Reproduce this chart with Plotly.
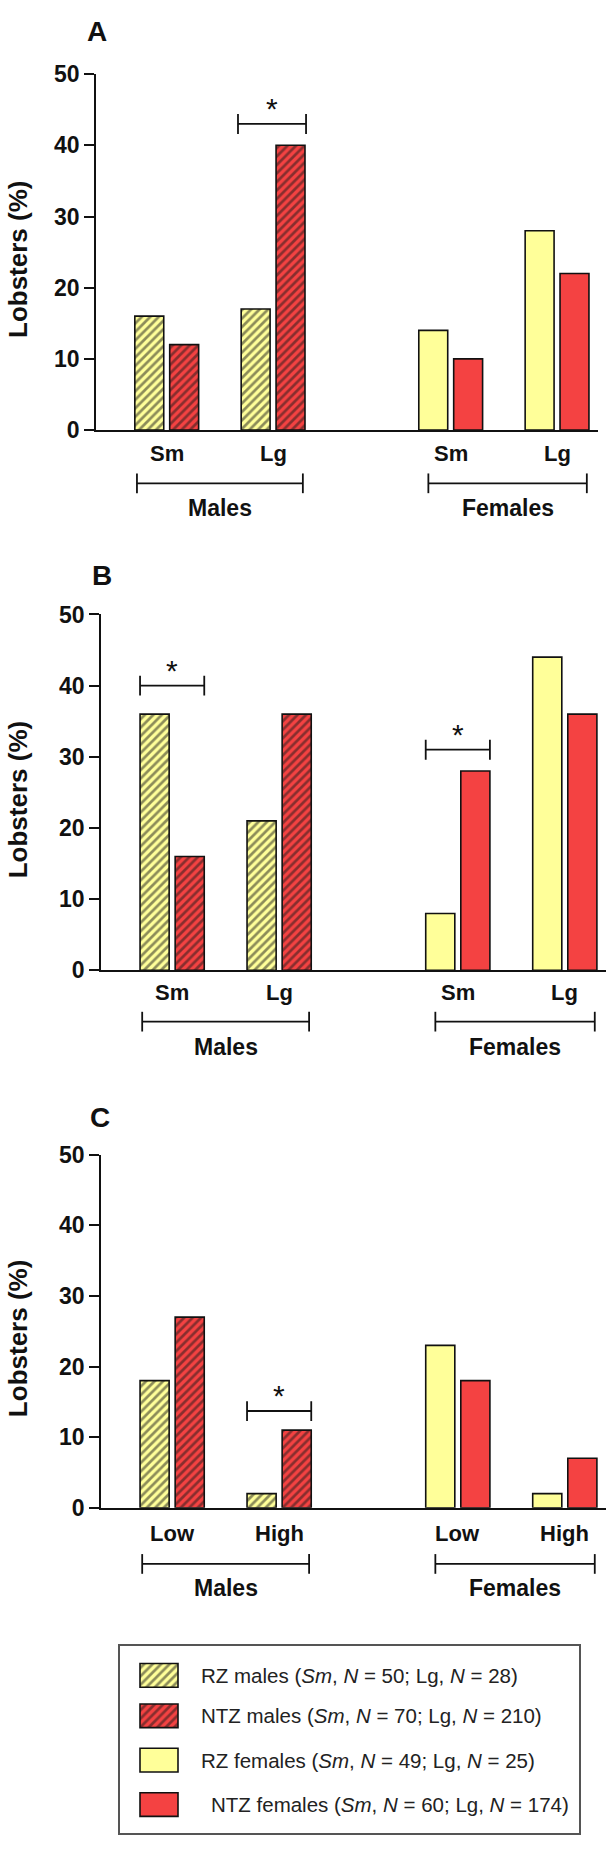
import plotly.graph_objects as go

W, H = 609, 1854

# ---------------- data ----------------
panel_letters = ["A", "B", "C"]
group_labels = [["Sm", "Lg"], ["Sm", "Lg"], ["Low", "High"]]
sex_labels = ["Males", "Females"]

rz_males = [[16, 17], [36, 21], [18, 2]]
ntz_males = [[12, 40], [16, 36], [27, 11]]
rz_females = [[14, 28], [8, 44], [23, 2]]
ntz_females = [[10, 22], [28, 36], [18, 7]]

y_ticks = [0, 10, 20, 30, 40, 50]
y_title = "Lobsters (%)"

# significance brackets: panel index, left x, right x, level (in % units)
sig_panel = [0, 1, 1, 2]
sig_x0 = [0.67, -0.30, 2.37, 0.70]
sig_x1 = [1.31, 0.30, 2.97, 1.30]
sig_level = [43, 40, 31, 13.7]

legend_labels = [
    "RZ males (<i>Sm</i>, <i>N</i> = 50; Lg, <i>N</i> = 28)",
    "NTZ males (<i>Sm</i>, <i>N</i> = 70; Lg, <i>N</i> = 210)",
    "RZ females (<i>Sm</i>, <i>N</i> = 49; Lg, <i>N</i> = 25)",
    "NTZ females (<i>Sm</i>, <i>N</i> = 60; Lg, <i>N</i> = 174)",
]

# ---------------- layout constants ----------------
FONT = "Liberation Sans, Arial, Helvetica, sans-serif"
INK = "#111111"
YEL = "#FFFF99"
RED = "#F44242"
HATCH = dict(shape="/", fgcolor="#1a1a1a", size=6, solidity=0.45)

group_x = [0, 1, 2.67, 3.67]
x_range = [-0.665, 4.055]
panel_px_x = [(96, 598), (101, 606), (101, 606)]
panel_px_y = [(62, 423), (610, 971), (1158, 1516)]
letter_px = [(97, 19), (102, 570), (100, 1120)]
cat_off = [24, 22, 26]
brk_off = [54, 52, 57]
sex_off = [79, 78, 81]
males_span = (-0.28, 1.28)
females_span = (2.46, 3.95)

legend_px_x = (120, 579)
legend_px_y = (1656, 1846)
legend_rows = [30, 71, 116, 161]
legend_text_x = [79, 79, 79, 89]


def px_x(p):
    return p / W


def px_y(p):
    return 1 - p / H


fig = go.Figure()
annotations = []
shapes = []

for i in range(3):
    sfx = "" if i == 0 else str(i + 1)
    xa, ya = "x" + sfx, "y" + sfx
    series = [
        (group_x[:2], rz_males[i], -0.30, YEL, True),
        (group_x[:2], ntz_males[i], 0.028, RED, True),
        (group_x[2:], rz_females[i], -0.30, YEL, False),
        (group_x[2:], ntz_females[i], 0.028, RED, False),
    ]
    for xs, ys, off, col, hatched in series:
        marker = dict(color=col, line=dict(color=INK, width=1.6))
        if hatched:
            marker["pattern"] = dict(HATCH, bgcolor=col)
        fig.add_trace(go.Bar(x=xs, y=ys, offset=off, width=0.272, marker=marker,
                             xaxis=xa, yaxis=ya, showlegend=False, hoverinfo="skip"))

    x0p, x1p = panel_px_x[i]
    y0p, y1p = panel_px_y[i]
    fig.update_layout(**{
        "xaxis" + sfx: dict(domain=[px_x(x0p), px_x(x1p)], range=x_range, showline=True,
                            linecolor=INK, linewidth=1.6, ticks="", showticklabels=False,
                            showgrid=False, zeroline=False, anchor=ya, fixedrange=True),
        "yaxis" + sfx: dict(domain=[px_y(y1p), px_y(y0p)], range=[0, 50], tickvals=y_ticks,
                            ticks="outside", ticklen=10, tickwidth=1.6, tickcolor=INK,
                            showline=True, linecolor=INK, linewidth=1.6, showgrid=False,
                            zeroline=False, anchor=xa, fixedrange=True,
                            tickfont=dict(family=FONT, size=23, color=INK, weight="bold")),
    })

    # panel letter
    lx, ly = letter_px[i]
    annotations.append(dict(text=panel_letters[i], x=px_x(lx), y=px_y(ly), xref="paper", yref="paper",
                            showarrow=False, xanchor="center", yanchor="middle",
                            font=dict(family=FONT, size=28, color=INK, weight="bold")))
    # y title
    annotations.append(dict(text=y_title, x=px_x(18), y=px_y((y0p + y1p) / 2 + 8), xref="paper",
                            yref="paper", showarrow=False, textangle=-90, xanchor="center",
                            yanchor="middle",
                            font=dict(family=FONT, size=26, color=INK, weight="bold")))
    # category labels
    labels = group_labels[i] + group_labels[i]
    for gx, lab in zip(group_x, labels):
        annotations.append(dict(text=lab, x=gx, y=px_y(y1p + cat_off[i]), xref=xa, yref="paper",
                                showarrow=False, xanchor="center", yanchor="middle",
                                font=dict(family=FONT, size=22, color=INK, weight="bold")))
    # sex brackets
    by = px_y(y1p + brk_off[i])
    for (sx0, sx1), lab in zip([males_span, females_span], sex_labels):
        shapes.append(dict(type="line", xref=xa, yref="paper", x0=sx0, x1=sx1, y0=by, y1=by,
                           line=dict(color=INK, width=1.8)))
        for sx in (sx0, sx1):
            shapes.append(dict(type="line", xref=xa, yref="paper", x0=sx, x1=sx,
                               y0=by + 10 / H, y1=by - 10 / H, line=dict(color=INK, width=1.8)))
        annotations.append(dict(text=lab, x=(sx0 + sx1) / 2, y=px_y(y1p + sex_off[i]), xref=xa,
                                yref="paper", showarrow=False, xanchor="center", yanchor="middle",
                                font=dict(family=FONT, size=23, color=INK, weight="bold")))

# significance brackets
for p, sx0, sx1, lev in zip(sig_panel, sig_x0, sig_x1, sig_level):
    sfx = "" if p == 0 else str(p + 1)
    xa, ya = "x" + sfx, "y" + sfx
    shapes.append(dict(type="line", xref=xa, yref=ya, x0=sx0, x1=sx1, y0=lev, y1=lev,
                       line=dict(color=INK, width=1.8)))
    for sx in (sx0, sx1):
        shapes.append(dict(type="line", xref=xa, yref=ya, x0=sx, x1=sx, y0=lev - 1.4, y1=lev + 1.4,
                           line=dict(color=INK, width=1.8)))
    annotations.append(dict(text="*", x=(sx0 + sx1) / 2, y=lev - 0.45, xref=xa, yref=ya,
                            showarrow=False, xanchor="center", yanchor="bottom",
                            font=dict(family=FONT, size=30, color=INK)))

# ---------------- legend (drawn in its own axes) ----------------
lw = legend_px_x[1] - legend_px_x[0]
lh = legend_px_y[1] - legend_px_y[0]
swatch_cols = [YEL, RED, YEL, RED]
swatch_hatch = [True, True, False, False]
for row, col, hatched in zip(legend_rows, swatch_cols, swatch_hatch):
    marker = dict(color=col, line=dict(color=INK, width=1.6))
    if hatched:
        marker["pattern"] = dict(HATCH, bgcolor=col)
    fig.add_trace(go.Bar(x=[39], y=[24], base=[row - 12], width=[38], marker=marker,
                         xaxis="x4", yaxis="y4", showlegend=False, hoverinfo="skip"))
for row, tx, lab in zip(legend_rows, legend_text_x, legend_labels):
    annotations.append(dict(text=lab, x=tx, y=row, xref="x4", yref="y4", showarrow=False,
                            xanchor="left", yanchor="middle",
                            font=dict(family=FONT, size=20.5, color="#222")))

fig.update_layout(
    xaxis4=dict(domain=[px_x(legend_px_x[0]), px_x(legend_px_x[1])], range=[0, lw], showline=True,
                mirror=True, linecolor="#555", linewidth=2, showticklabels=False, ticks="",
                showgrid=False, zeroline=False, anchor="y4", fixedrange=True),
    yaxis4=dict(domain=[px_y(legend_px_y[1]), px_y(legend_px_y[0])], range=[lh, 0], showline=True,
                mirror=True, linecolor="#555", linewidth=2, showticklabels=False, ticks="",
                showgrid=False, zeroline=False, anchor="x4", fixedrange=True),
)

fig.update_layout(
    width=W, height=H, autosize=False,
    margin=dict(l=0, r=0, t=0, b=0),
    paper_bgcolor="white", plot_bgcolor="white",
    barmode="overlay", showlegend=False,
    annotations=annotations, shapes=shapes,
)

fig.write_html("out.html", config={"displayModeBar": False},
               post_script="document.body.style.margin='0';document.body.style.overflow='hidden';")
